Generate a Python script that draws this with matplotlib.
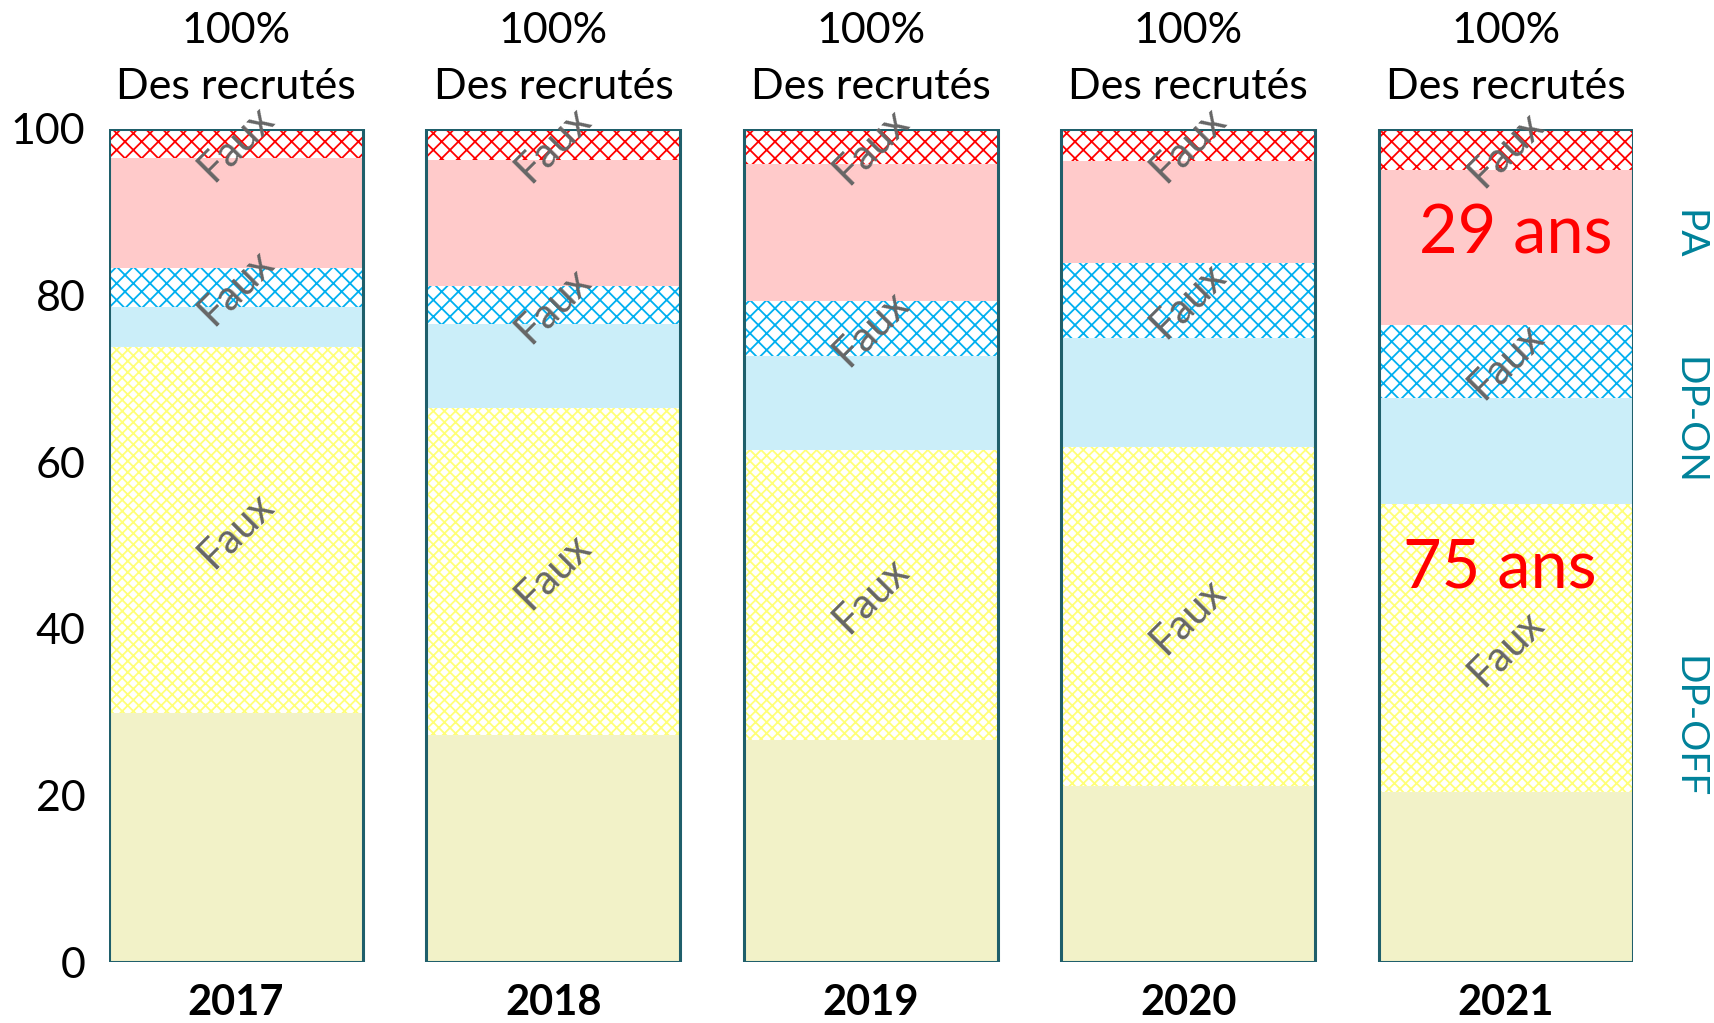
import numpy as np
import matplotlib
matplotlib.use("Agg")
import matplotlib.pyplot as plt

plt.rcParams['font.family'] = ['Lato', 'DejaVu Sans']
plt.rcParams['hatch.linewidth'] = 1.3

# ==================================================
# DATA (share of recruits, %, bottom to top)
# ==================================================

years = ['2017', '2018', '2019', '2020', '2021']

off_solid = [29.9, 27.2, 26.6, 21.1, 20.4]
off_hatch = [43.9, 39.3, 34.9, 40.7, 34.6]
on_solid = [4.8, 10.1, 11.3, 13.1, 12.7]
on_hatch = [4.7, 4.5, 6.6, 9.0, 8.8]
pa_solid = [13.2, 15.2, 16.4, 12.3, 18.6]
pa_hatch = [3.5, 3.7, 4.2, 3.8, 4.9]

header_text = "100%\nDes recrutés"
hatch_label = "Faux"
group_labels = ['PA', 'DP-ON', 'DP-OFF']
age_notes = ['29 ans', '75 ans']

# ==================================================
# CHART
# ==================================================

fig = plt.figure(figsize=(17.14, 10.23), dpi=100)
ax = fig.add_axes([0.0636, 0.0596, 0.889, 0.8144])

x = np.arange(len(years))
w = 0.8

segments = [
    (off_solid, dict(color='#f2f2c8', linewidth=0)),
    (off_hatch, dict(facecolor='white', edgecolor='#ffff78', hatch='xxx', linewidth=0)),
    (on_solid, dict(color='#cbeef9', linewidth=0)),
    (on_hatch, dict(facecolor='white', edgecolor='#00b0f0', hatch='xx', linewidth=0)),
    (pa_solid, dict(color='#ffcaca', linewidth=0)),
    (pa_hatch, dict(facecolor='white', edgecolor='#ff0000', hatch='xx', linewidth=0)),
]

bottom = np.zeros(len(years))
for vals, style in segments:
    vals = np.array(vals)
    ax.bar(x, vals, w, bottom=bottom, **style)
    if 'hatch' in style:
        for xi, b, v in zip(x, bottom, vals):
            ax.text(xi, b + v / 2, hatch_label, rotation=45, color='#666666',
                    fontsize=30, ha='center', va='center', clip_on=False)
    bottom = bottom + vals

# bar outlines
ax.bar(x, bottom, w, fill=False, edgecolor='#1f5f6b', linewidth=2.2)

# headers and years
for xi, yr in zip(x, years):
    ax.text(xi, 108.4, header_text, ha='center', va='center', fontsize=31,
            linespacing=1.6, clip_on=False)
    ax.text(xi, -4.9, yr, ha='center', va='center', fontsize=30,
            fontweight='bold', clip_on=False)

# group labels on the right
for lab, yv in zip(group_labels, [87.3, 65.0, 28.2]):
    ax.text(4.575, yv, lab, rotation=-90, color='#00829a', fontsize=28,
            ha='center', va='center', clip_on=False)

# age notes on the last bar
ax.text(4.03, 87.3, age_notes[0], color='#ff0000', fontsize=48,
        ha='center', va='center')
ax.text(3.98, 47.2, age_notes[1], color='#ff0000', fontsize=48,
        ha='center', va='center')

ax.set_xlim(-0.4, 4.4)
ax.set_ylim(0, 100)
ax.set_yticks([0, 20, 40, 60, 80, 100])
ax.tick_params(axis='y', length=0, labelsize=31, pad=17)
ax.set_xticks([])
for s in ax.spines.values():
    s.set_visible(False)

plt.savefig("out.png", dpi=100)
